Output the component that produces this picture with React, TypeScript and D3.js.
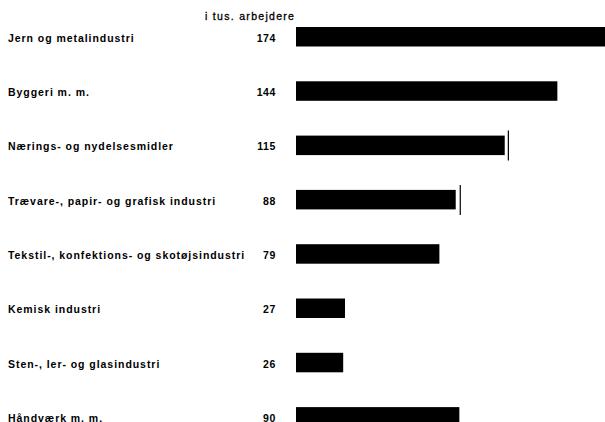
import React from "react";
import * as d3 from "d3";

const categories = [
	"Jern og metalindustri",
	"Byggeri m. m.",
	"Nærings- og nydelsesmidler",
	"Trævare-, papir- og grafisk industri",
	"Tekstil-, konfektions- og skotøjsindustri",
	"Kemisk industri",
	"Sten-, ler- og glasindustri",
	"Håndværk m. m.",
];

// thousand workers
const workers = [174, 144, 115, 88, 79, 27, 26, 90];

// thin vertical marks printed just past some bars
const markers: Array<number | null> = [null, null, 117, 90.5, null, null, null, null];

const unitLabel = "i tus. arbejdere";

const W = 605;
const H = 422;
const FONT = "'Liberation Sans', Arial, sans-serif";

const App: React.FC = () => {
	const x = d3.scaleLinear().domain([0, 100]).range([296, 296 + 181.5]);
	const y = d3
		.scaleBand<string>()
		.domain(categories)
		.range([27, 426.6])
		.paddingInner(0.641)
		.paddingOuter(0);

	const bh = y.bandwidth();

	return (
		<div style={{position: "fixed", left: 0, top: 0, background: "#fff"}}>
			<svg width={W} height={H} style={{display: "block"}}>
				<rect width={W} height={H} fill="#fff" />
				<text
					x={205}
					y={19.5}
					fontFamily={FONT}
					fontSize={10.5}
					letterSpacing={1.3}
					stroke="#000"
					strokeWidth={0.3}
					fill="#000"
				>
					{unitLabel}
				</text>
				{categories.map((c, i) => {
					const top = y(c) ?? 0;
					const mid = top + bh / 2;
					const m = markers[i];
					return (
						<g key={c}>
							<text
								x={8}
								y={mid + 5}
								fontFamily={FONT}
								fontSize={10.5}
								fontWeight="bold"
								letterSpacing={0.95}
								fill="#000"
							>
								{c}
							</text>
							<text
								x={276}
								y={mid + 5}
								textAnchor="end"
								fontFamily={FONT}
								fontSize={10.5}
								fontWeight="bold"
								letterSpacing={0.6}
								fill="#000"
							>
								{workers[i]}
							</text>
							<rect
								x={x(0)}
								y={top}
								width={x(workers[i]) - x(0)}
								height={bh}
								fill="#000"
							/>
							{m != null && (
								<line
									x1={x(m)}
									x2={x(m)}
									y1={top - 5}
									y2={top + bh + 5.5}
									stroke="#000"
									strokeWidth={1.2}
								/>
							)}
						</g>
					);
				})}
			</svg>
		</div>
	);
};

export default App;
